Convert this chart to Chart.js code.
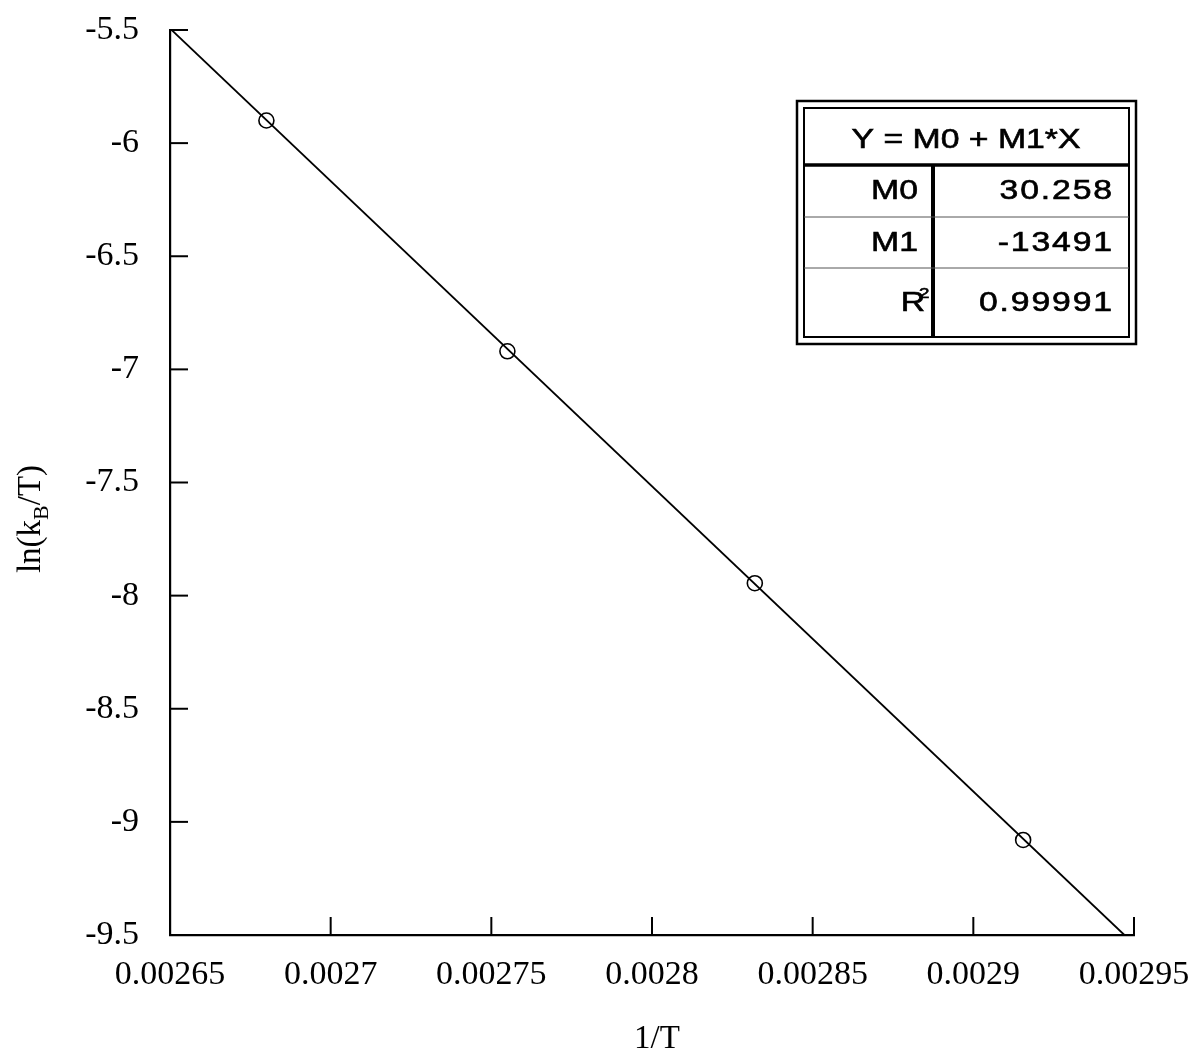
<!DOCTYPE html>
<html>
<head>
<meta charset="utf-8">
<script src="https://cdn.jsdelivr.net/npm/chart.js@4"></script>
<style>
  html, body { margin: 0; padding: 0; background: #fff; }
</style>
</head>
<body>
<canvas id="arrhenius" width="1195" height="1052"></canvas>
<script>
// measured points: 1/T vs ln(kB/T)
var invT = [0.00268, 0.002755, 0.002832, 0.0029155];
var lnKT = [-5.90, -6.92, -7.945, -9.08];

// linear fit Y = M0 + M1*X
var fitM0 = 30.258;
var fitM1 = -13491;
var fitR2 = 0.99991;

var xTicks = [0.00265, 0.0027, 0.00275, 0.0028, 0.00285, 0.0029, 0.00295];
var yTicks = [-9.5, -9, -8.5, -8, -7.5, -7, -6.5, -6, -5.5];

var xMin = 0.00265, xMax = 0.00295;
var yMin = -9.5, yMax = -5.5;

// fit line runs from the left edge down to where it leaves the bottom
var fitX = [xMin, (yMin - fitM0) / fitM1];
var fitY = fitX.map(function (x) { return fitM0 + fitM1 * x; });

var serif = '"Liberation Serif", "Times New Roman", serif';
var sans = '"Liberation Sans", Arial, sans-serif';

function seg(ctx, x1, y1, x2, y2) {
  ctx.beginPath();
  ctx.moveTo(x1, y1);
  ctx.lineTo(x2, y2);
  ctx.stroke();
}

// inward tick marks on the left and bottom axes
var innerTicks = {
  id: 'innerTicks',
  afterDatasetsDraw: function (chart) {
    var ctx = chart.ctx, a = chart.chartArea;
    var xs = chart.scales.x, ys = chart.scales.y;
    ctx.save();
    ctx.strokeStyle = '#000';
    ctx.lineWidth = 2;
    ys.ticks.forEach(function (t) {
      var py = ys.getPixelForValue(t.value);
      seg(ctx, a.left, py, a.left + 18, py);
    });
    xs.ticks.forEach(function (t) {
      var px = xs.getPixelForValue(t.value);
      seg(ctx, px, a.bottom, px, a.bottom - 18);
    });
    ctx.restore();
  }
};

// axis titles, the y one has a subscript
var axisTitles = {
  id: 'axisTitles',
  afterDraw: function (chart) {
    var ctx = chart.ctx;
    ctx.save();
    ctx.fillStyle = '#000';
    ctx.textBaseline = 'alphabetic';

    ctx.font = '33px ' + serif;
    ctx.textAlign = 'center';
    ctx.fillText('1/T', 657, 1048);

    var big = '33px ' + serif, small = '22px ' + serif;
    var parts = [['ln(k', big, 0], ['B', small, 8], ['/T)', big, 0]];
    var total = 0;
    parts.forEach(function (p) { ctx.font = p[1]; total += ctx.measureText(p[0]).width; });
    ctx.translate(40, 519);
    ctx.rotate(-Math.PI / 2);
    ctx.textAlign = 'left';
    var x = -total / 2;
    parts.forEach(function (p) {
      ctx.font = p[1];
      ctx.fillText(p[0], x, p[2]);
      x += ctx.measureText(p[0]).width;
    });
    ctx.restore();
  }
};

// wide sans text used inside the table
function boxText(ctx, s, x, y, align, size, spacing) {
  var sx = 1.25;
  ctx.save();
  ctx.font = size + 'px ' + sans;
  ctx.letterSpacing = (spacing || 0) + 'px';
  ctx.textAlign = align;
  ctx.translate(x, y);
  ctx.scale(sx, 1);
  ctx.lineWidth = 0.6;
  ctx.strokeStyle = '#000';
  ctx.fillText(s, 0, 0);
  ctx.strokeText(s, 0, 0);
  ctx.restore();
}

// boxed table with the fit parameters
var fitBox = {
  id: 'fitBox',
  afterDraw: function (chart) {
    var ctx = chart.ctx;
    var L = 797, R = 1136, T = 101, B = 344;
    ctx.save();
    ctx.fillStyle = '#fff';
    ctx.fillRect(L, T, R - L, B - T);
    ctx.strokeStyle = '#000';

    ctx.lineWidth = 2.5;
    ctx.strokeRect(L, T, R - L, B - T);
    ctx.lineWidth = 2;
    ctx.strokeRect(L + 7, T + 7, R - L - 14, B - T - 14);

    ctx.lineWidth = 3.5;
    seg(ctx, L + 7, 165, R - 7, 165);
    ctx.lineWidth = 4;
    seg(ctx, 933, 165, 933, B - 7);
    ctx.lineWidth = 1;
    ctx.strokeStyle = '#555';
    seg(ctx, L + 7, 217, R - 7, 217);
    seg(ctx, L + 7, 268, R - 7, 268);

    ctx.fillStyle = '#000';
    boxText(ctx, 'Y = M0 + M1*X', 966, 148, 'center', 27, 0);

    var rows = [
      ['M0', fitM0.toFixed(3), 199],
      ['M1', String(fitM1), 251],
      ['R', String(fitR2), 311]
    ];
    rows.forEach(function (r) {
      if (r[0] === 'R') {
        boxText(ctx, 'R', 925, r[2], 'right', 27, 0);
        boxText(ctx, '2', 919, r[2] - 13, 'left', 15, 0);
      } else {
        boxText(ctx, r[0], 918, r[2], 'right', 27, 0);
      }
      boxText(ctx, r[1], 1114, r[2], 'right', 27, 1.5);
    });
    ctx.restore();
  }
};

new Chart(document.getElementById('arrhenius'), {
  type: 'scatter',
  data: {
    datasets: [{
      label: 'fit',
      data: fitX.map(function (x, i) { return { x: x, y: fitY[i] }; }),
      showLine: true,
      borderColor: '#000',
      borderWidth: 1.8,
      pointRadius: 0,
      fill: false
    }, {
      label: 'ln(kB/T)',
      data: invT.map(function (x, i) { return { x: x, y: lnKT[i] }; }),
      showLine: false,
      pointStyle: 'circle',
      pointRadius: 7.5,
      pointBorderWidth: 1.6,
      pointBorderColor: '#000',
      pointBackgroundColor: 'rgba(0,0,0,0)'
    }]
  },
  options: {
    responsive: false,
    devicePixelRatio: 1,
    animation: false,
    events: [],
    layout: { padding: { left: 0, top: 30, right: 61, bottom: 0 } },
    plugins: {
      legend: { display: false },
      tooltip: { enabled: false }
    },
    scales: {
      x: {
        type: 'linear',
        min: xMin,
        max: xMax,
        afterBuildTicks: function (scale) {
          scale.ticks = xTicks.map(function (v) { return { value: v }; });
        },
        afterFit: function (scale) {
          scale.height = 117;
          scale.paddingLeft = 0;
          scale.paddingRight = 0;
        },
        grid: { display: false, drawTicks: false },
        border: { display: true, color: '#000', width: 2.2 },
        ticks: {
          color: '#000',
          font: { family: serif, size: 34 },
          padding: 20,
          maxRotation: 0,
          autoSkip: false,
          callback: function (v) { return String(+v.toFixed(5)); }
        }
      },
      y: {
        type: 'linear',
        min: yMin,
        max: yMax,
        afterBuildTicks: function (scale) {
          scale.ticks = yTicks.map(function (v) { return { value: v }; });
        },
        afterFit: function (scale) {
          scale.width = 170;
          scale.paddingTop = 0;
          scale.paddingBottom = 0;
        },
        grid: { display: false, drawTicks: false },
        border: { display: true, color: '#000', width: 2.2 },
        ticks: {
          color: '#000',
          font: { family: serif, size: 34 },
          padding: 31,
          autoSkip: false,
          callback: function (v) { return String(v); }
        }
      }
    }
  },
  plugins: [innerTicks, axisTitles, fitBox]
});
</script>
</body>
</html>
